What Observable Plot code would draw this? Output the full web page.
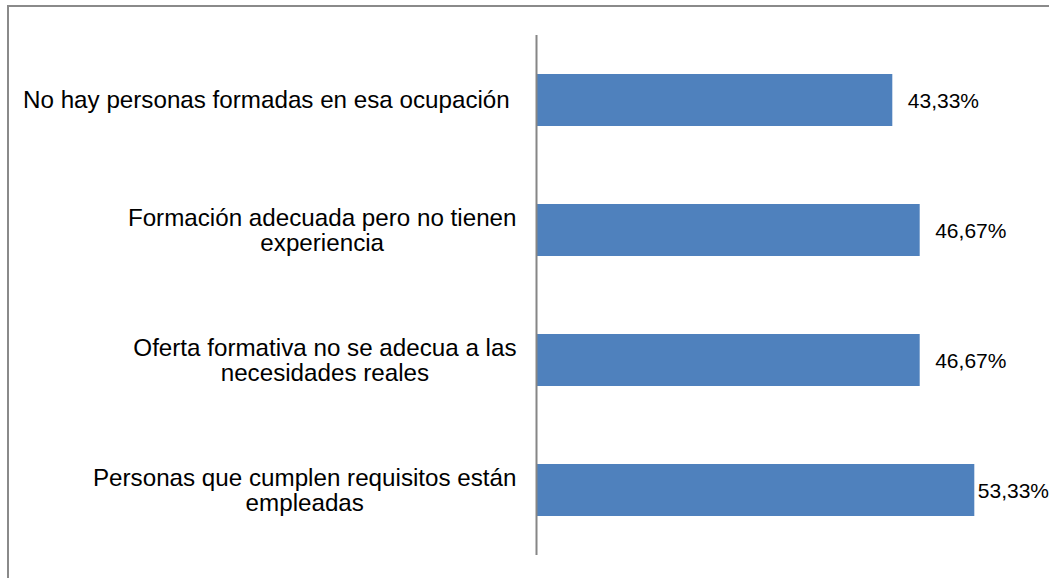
<!DOCTYPE html>
<html>
<head>
<meta charset="utf-8">
<script src="https://cdn.jsdelivr.net/npm/d3@7"></script>
<script src="https://cdn.jsdelivr.net/npm/@observablehq/plot@0.6"></script>
<style>
  html, body { margin: 0; padding: 0; background: #fff; }
  #wrap { position: relative; width: 1049px; height: 578px; overflow: hidden; }
  #border { position: absolute; left: 7px; top: 5px; width: 1100px; height: 620px;
            border-top: 2px solid #8a8a8a; border-left: 2px solid #8a8a8a; box-sizing: border-box; }
  #chart { position: absolute; left: 0; top: 0; }
  g[aria-label="cat-labels"] text { white-space: pre; }
</style>
</head>
<body>
<div id="wrap">
  <div id="border"></div>
  <div id="chart"></div>
</div>
<script>
const categories = [
  "No hay personas formadas en esa ocupación ",
  "Formación adecuada pero no tienen\nexperiencia",
  "Oferta formativa no se adecua a las\nnecesidades reales",
  "Personas que cumplen requisitos están\nempleadas"
];
const values = [43.33, 46.67, 46.67, 53.33];

const data = categories.map((c, i) => ({category: c, value: values[i]}));
const fmt = v => v.toFixed(2).replace(".", ",") + "%";
const font = "Liberation Sans, Arial, sans-serif";

const fig = Plot.plot({
  width: 1049,
  height: 578,
  marginLeft: 537,
  marginRight: 20,
  marginTop: 35,
  marginBottom: 23,
  style: {fontFamily: font, background: "transparent", overflow: "visible"},
  x: {domain: [0, 60], axis: null},
  y: {domain: categories, axis: null, paddingInner: 0.6, paddingOuter: 0.3},
  marks: [
    Plot.barX(data, {x: "value", y: "category", fill: "#4F81BD"}),
    Plot.ruleX([0], {stroke: "#868686", strokeWidth: 2, dx: -1}),
    Plot.text(data.filter(d => d.value < 50), {
      x: "value", y: "category", text: d => fmt(d.value),
      textAnchor: "start", dx: 15, dy: 1, fontSize: 21, fill: "#000"
    }),
    Plot.text(data.filter(d => d.value >= 50), {
      x: "value", y: "category", text: d => fmt(d.value),
      textAnchor: "start", dx: 3, dy: 1, fontSize: 21, fill: "#000"
    }),
    Plot.text(data, {
      y: "category", text: "category", frameAnchor: "left",
      textAnchor: "end", dx: -21, fontSize: 24.2, lineHeight: 1.03,
      fill: "#000", ariaLabel: "cat-labels"
    })
  ]
});
document.getElementById("chart").append(fig);

// center the lines of multi-line category labels under their longest line (block right-aligned)
requestAnimationFrame(() => {
  fig.querySelectorAll("text").forEach(t => {
    const spans = Array.from(t.querySelectorAll("tspan"));
    if (spans.length > 1) {
      const widths = spans.map(s => s.getComputedTextLength());
      const w = Math.max(...widths);
      spans.forEach((s, i) => s.setAttribute("x", -(w - widths[i]) / 2));
    }
  });
});
</script>
</body>
</html>
